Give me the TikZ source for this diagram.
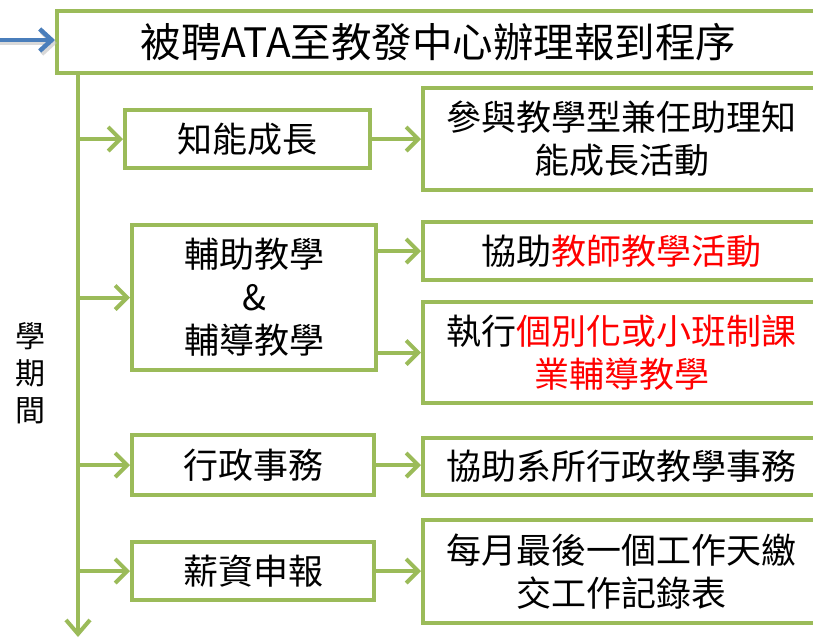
\documentclass[tikz,border=0pt]{standalone}
\usepackage{fontspec}
\newfontfamily\cjk{Noto Sans CJK TC}
\usetikzlibrary{arrows.meta}
\definecolor{gline}{HTML}{9BBB59}
\definecolor{bline}{HTML}{4A7EBB}
\definecolor{rtext}{HTML}{FF0000}
\begin{document}
\begin{tikzpicture}[x=1pt,y=-1pt,
  box/.style={draw=gline, line width=4pt, fill=white, inner sep=0pt, align=center,
    font=\cjk\fontsize{35}{43}\selectfont},
  garrow/.style={draw=gline, line width=4pt, -{Straight Barb[length=12pt,width=24pt]}},
  lbl/.style={inner sep=0pt, align=center, font=\cjk\fontsize{30}{37}\selectfont}]
\useasboundingbox (0,0) rectangle (813,641);
\clip (0,0) rectangle (813,641);
% title
\node[box, minimum width=763pt, minimum height=62pt, font=\cjk\fontsize{40.5}{46}\selectfont]
  (title) at (438.5,42) {被聘ATA至教發中心辦理報到程序};
% blue incoming arrow with soft shadow
\coordinate (bin) at (-2,40);
\draw[black!25, opacity=0.6, line width=4.5pt, -{Straight Barb[length=12pt,width=22pt]}]
  ([shift={(2,3)}]bin) -- ([shift={(2,3)}]title.west |- bin);
\draw[bline, line width=4.5pt, -{Straight Barb[length=12pt,width=22pt]}]
  (bin) -- (title.west |- bin);
% spine
\coordinate (stop) at (78,73);
\coordinate (sbot) at (78,637);
\draw[garrow, -{Straight Barb[length=14pt,width=24pt]}] (stop) -- (sbot);
\node[lbl] (period) at (30,373) {學\\期\\間};
% left boxes
\node[box, minimum width=245pt, minimum height=58pt] (k1) at (247.5,139) {知能成長};
\node[box, minimum width=244pt, minimum height=145pt] (k2) at (254,297.5) {輔助教學\\\&\\輔導教學};
\node[box, minimum width=242pt, minimum height=60pt] (k3) at (253,465) {行政事務};
\node[box, minimum width=242pt, minimum height=58pt] (k4) at (253,571) {薪資申報};
% right boxes
\node[box, minimum width=397pt, minimum height=102pt] (r1) at (621.5,139) {參與教學型兼任助理知\\能成長活動};
\node[box, minimum width=397pt, minimum height=58pt] (r2) at (621.5,251) {協助{\color{rtext}教師教學活動}};
\node[box, minimum width=397pt, minimum height=101pt] (r3) at (621.5,352.5) {執行{\color{rtext}個別化或小班制課}\\{\color{rtext}業輔導教學}};
\node[box, minimum width=397pt, minimum height=57pt] (r4) at (621.5,466.5) {協助系所行政教學事務};
\node[box, minimum width=397pt, minimum height=103pt] (r5) at (621.5,571.5) {每月最後一個工作天繳\\交工作記錄表};
% spine to left boxes
\draw[garrow] (k1.west -| stop) -- (k1.west);
\draw[garrow] (k2.west -| stop) -- (k2.west);
\draw[garrow] (k3.west -| stop) -- (k3.west);
\draw[garrow] (k4.west -| stop) -- (k4.west);
% left to right
\draw[garrow] (k1.east) -- (k1.east -| r1.west);
\draw[garrow] (k2.east |- r2.west) -- (r2.west);
\draw[garrow] (k2.east |- r3.west) -- (r3.west);
\draw[garrow] (k3.east) -- (k3.east -| r4.west);
\draw[garrow] (k4.east) -- (k4.east -| r5.west);
\end{tikzpicture}
\end{document}
